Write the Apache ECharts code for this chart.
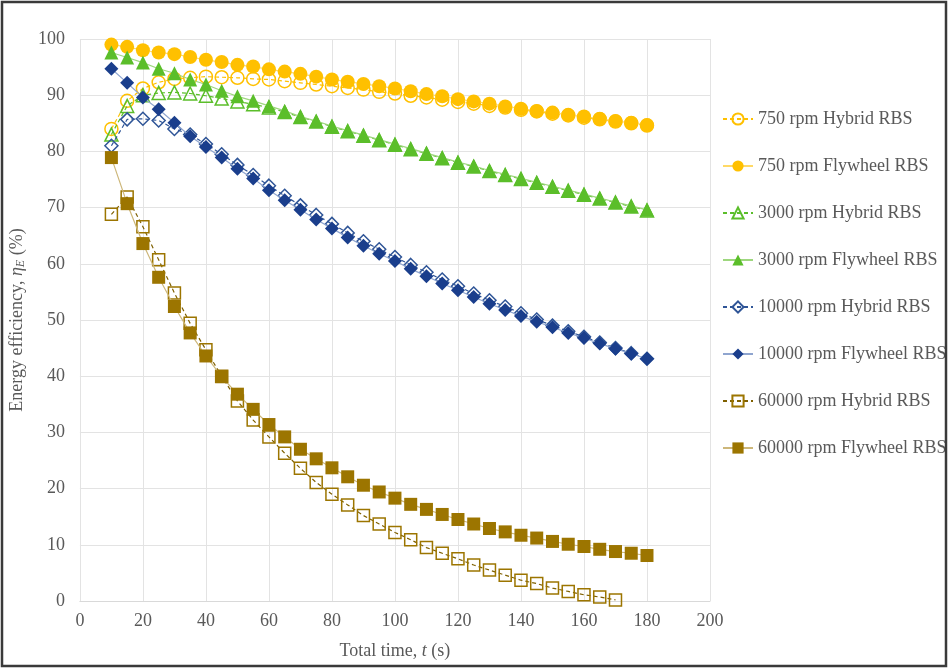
<!DOCTYPE html>
<html>
<head>
<meta charset="utf-8">
<script src="https://cdn.jsdelivr.net/npm/echarts@6/dist/echarts.min.js"></script>
<style>html,body{margin:0;padding:0;background:#fff;}#c{width:948px;height:668px;}</style>
</head>
<body>
<div id="c"></div>
<script>
// ---- data ----
var times = [10,15,20,25,30,35,40,45,50,55,60,65,70,75,80,85,90,95,100,105,110,115,120,125,130,135,140,145,150,155,160,165,170,175,180];
var hyb750  = [84.0,89.0,91.2,92.3,92.9,93.1,93.3,93.2,93.1,92.9,92.8,92.5,92.2,91.9,91.6,91.3,91.0,90.6,90.3,89.9,89.6,89.2,88.8,88.5,88.1,87.8,87.4,87.1,86.7,86.4,86.0,85.7,85.3,85.0,84.6];
var fly750  = [99.0,98.6,98.0,97.6,97.3,96.8,96.3,95.9,95.4,95.1,94.6,94.2,93.8,93.3,92.8,92.4,92.0,91.6,91.2,90.7,90.2,89.8,89.3,88.9,88.5,88.0,87.6,87.2,86.9,86.5,86.2,85.8,85.4,85.1,84.7];
var hyb3000 = [83.0,88.1,90.0,90.4,90.5,90.3,89.9,89.4,88.9,88.4,87.8,87.0,86.1,85.3,84.4,83.6,82.8,82.0,81.2,80.4,79.6,78.8,78.0,77.3,76.5,75.8,75.1,74.4,73.7,73.0,72.3,71.6,70.9,70.2,69.5];
var fly3000 = [97.6,96.7,95.8,94.7,93.9,92.8,91.9,90.8,89.8,89.0,88.1,87.2,86.2,85.4,84.5,83.7,82.9,82.1,81.3,80.5,79.7,78.9,78.1,77.4,76.6,75.9,75.2,74.5,73.8,73.1,72.4,71.7,71.0,70.3,69.6];
var hyb10000 = [81.0,85.7,85.8,85.5,84.0,83.0,81.3,79.5,77.6,75.8,73.9,72.1,70.4,68.7,67.1,65.5,64.0,62.6,61.2,59.8,58.5,57.2,56.0,54.7,53.5,52.4,51.2,50.1,49.0,48.0,47.0,46.0,45.0,44.1,43.1];
var fly10000 = [94.7,92.2,89.6,87.5,85.1,82.7,80.8,78.9,76.9,75.2,73.1,71.3,69.6,67.9,66.3,64.7,63.2,61.8,60.5,59.1,57.8,56.5,55.3,54.1,52.9,51.8,50.7,49.7,48.7,47.7,46.8,45.8,44.9,44.0,43.1];
var hyb60000 = [68.8,71.9,66.6,60.7,54.8,49.4,44.7,40.0,35.6,32.2,29.2,26.3,23.6,21.1,19.0,17.1,15.2,13.7,12.2,10.9,9.5,8.5,7.5,6.4,5.5,4.6,3.7,3.1,2.3,1.7,1.1,0.7,0.2];
var fly60000 = [78.9,70.7,63.6,57.6,52.4,47.7,43.6,39.9,36.8,34.1,31.4,29.2,27.0,25.3,23.7,22.1,20.6,19.4,18.3,17.2,16.3,15.4,14.5,13.7,12.9,12.3,11.7,11.2,10.6,10.1,9.7,9.2,8.8,8.5,8.1];
var seriesNames = ['750 rpm Hybrid RBS','750 rpm Flywheel RBS','3000 rpm Hybrid RBS','3000 rpm Flywheel RBS','10000 rpm Hybrid RBS','10000 rpm Flywheel RBS','60000 rpm Hybrid RBS','60000 rpm Flywheel RBS'];
var seriesValues = [hyb750, fly750, hyb3000, fly3000, hyb10000, fly10000, hyb60000, fly60000];

// ---- styling ----
var FONT = '"Liberation Serif", "Times New Roman", serif';
var TXT = '#595959';
var styles = [
  {sym:'circle',   size:13, color:'#FFC000', hollow:true,  line:'#FFC000', dash:true},
  {sym:'circle',   size:14, color:'#FFC000', hollow:false, line:'#FFD966', dash:false},
  {sym:'triangle', size:13, color:'#5BBE2A', hollow:true,  line:'#5BBE2A', dash:true},
  {sym:'triangle', size:14, color:'#5BBE2A', hollow:false, line:'#9ED77E', dash:false},
  {sym:'diamond',  size:13, color:'#2F5597', hollow:true,  line:'#2F5597', dash:true},
  {sym:'diamond',  size:14, color:'#1A3E8C', hollow:false, line:'#8FA5CF', dash:false},
  {sym:'rect',     size:12, color:'#9C7500', hollow:true,  line:'#7F6000', dash:true},
  {sym:'rect',     size:13, color:'#9C7500', hollow:false, line:'#CDB77A', dash:false}
];

var series = seriesNames.map(function(name, i){
  var st = styles[i];
  var vals = seriesValues[i];
  var data = vals.map(function(v, k){ return [times[k], v]; });
  return {
    name: name,
    type: 'line',
    data: data,
    symbol: st.sym,
    symbolSize: st.size,
    showAllSymbol: true,
    itemStyle: st.hollow ? {color:'rgba(255,255,255,0)', borderColor: st.color, borderWidth: 1.5} : {color: st.color, borderColor: st.color, borderWidth: 0},
    lineStyle: {color: st.line, width: 1.2, type: st.dash ? [4,3] : 'solid'},
    emphasis: {disabled: true},
    animation: false,
    z: 2 + i
  };
});

var chart = echarts.init(document.getElementById('c'), null, {renderer:'canvas'});
chart.setOption({
  backgroundColor: '#ffffff',
  animation: false,
  textStyle: {fontFamily: FONT, color: TXT},
  grid: {left: 74, right: 238, top: 39, bottom: 67, containLabel: false},
  xAxis: {
    type: 'value', min: 0, max: 200, interval: 20,
    name: '{a|Total time, }{i|t}{a| (s)}',
    nameLocation: 'middle', nameGap: 41,
    nameTextStyle: {rich: {
      a: {fontFamily: FONT, fontSize: 18, color: TXT},
      i: {fontFamily: FONT, fontSize: 18, color: TXT, fontStyle: 'italic'}
    }},
    axisLine: {show: true, lineStyle: {color: '#D9D9D9', width: 1}},
    axisTick: {show: false},
    axisLabel: {fontFamily: FONT, fontSize: 18, color: TXT, margin: 11},
    splitLine: {show: true, lineStyle: {color: '#E3E3E3', width: 1}}
  },
  yAxis: {
    type: 'value', min: 0, max: 100, interval: 10,
    name: '{a|Energy efficiency, }{i|η}{s|E}{a| (%)}',
    nameLocation: 'middle', nameGap: 44, nameRotate: 90,
    nameTextStyle: {rich: {
      a: {fontFamily: FONT, fontSize: 18, color: TXT},
      i: {fontFamily: FONT, fontSize: 18, color: TXT, fontStyle: 'italic'},
      s: {fontFamily: FONT, fontSize: 12, color: TXT, fontStyle: 'italic', padding: [8,0,0,0]}
    }},
    axisLine: {show: false},
    axisTick: {show: false},
    axisLabel: {fontFamily: FONT, fontSize: 18, color: TXT, margin: 15},
    splitLine: {show: true, lineStyle: {color: '#E3E3E3', width: 1}}
  },
  legend: {
    orient: 'vertical',
    left: 722, top: 110,
    padding: 0,
    itemWidth: 30, itemHeight: 14,
    itemGap: 29,
    data: seriesNames,
    selectedMode: false,
    textStyle: {fontFamily: FONT, fontSize: 18, color: TXT}
  },
  graphic: [{
    type: 'rect', silent: true, z: 100,
    shape: {x: 2, y: 2, width: 944, height: 664},
    style: {fill: 'none', stroke: '#3A3A3A', lineWidth: 2.5}
  }],
  series: series
});
</script>
</body>
</html>
